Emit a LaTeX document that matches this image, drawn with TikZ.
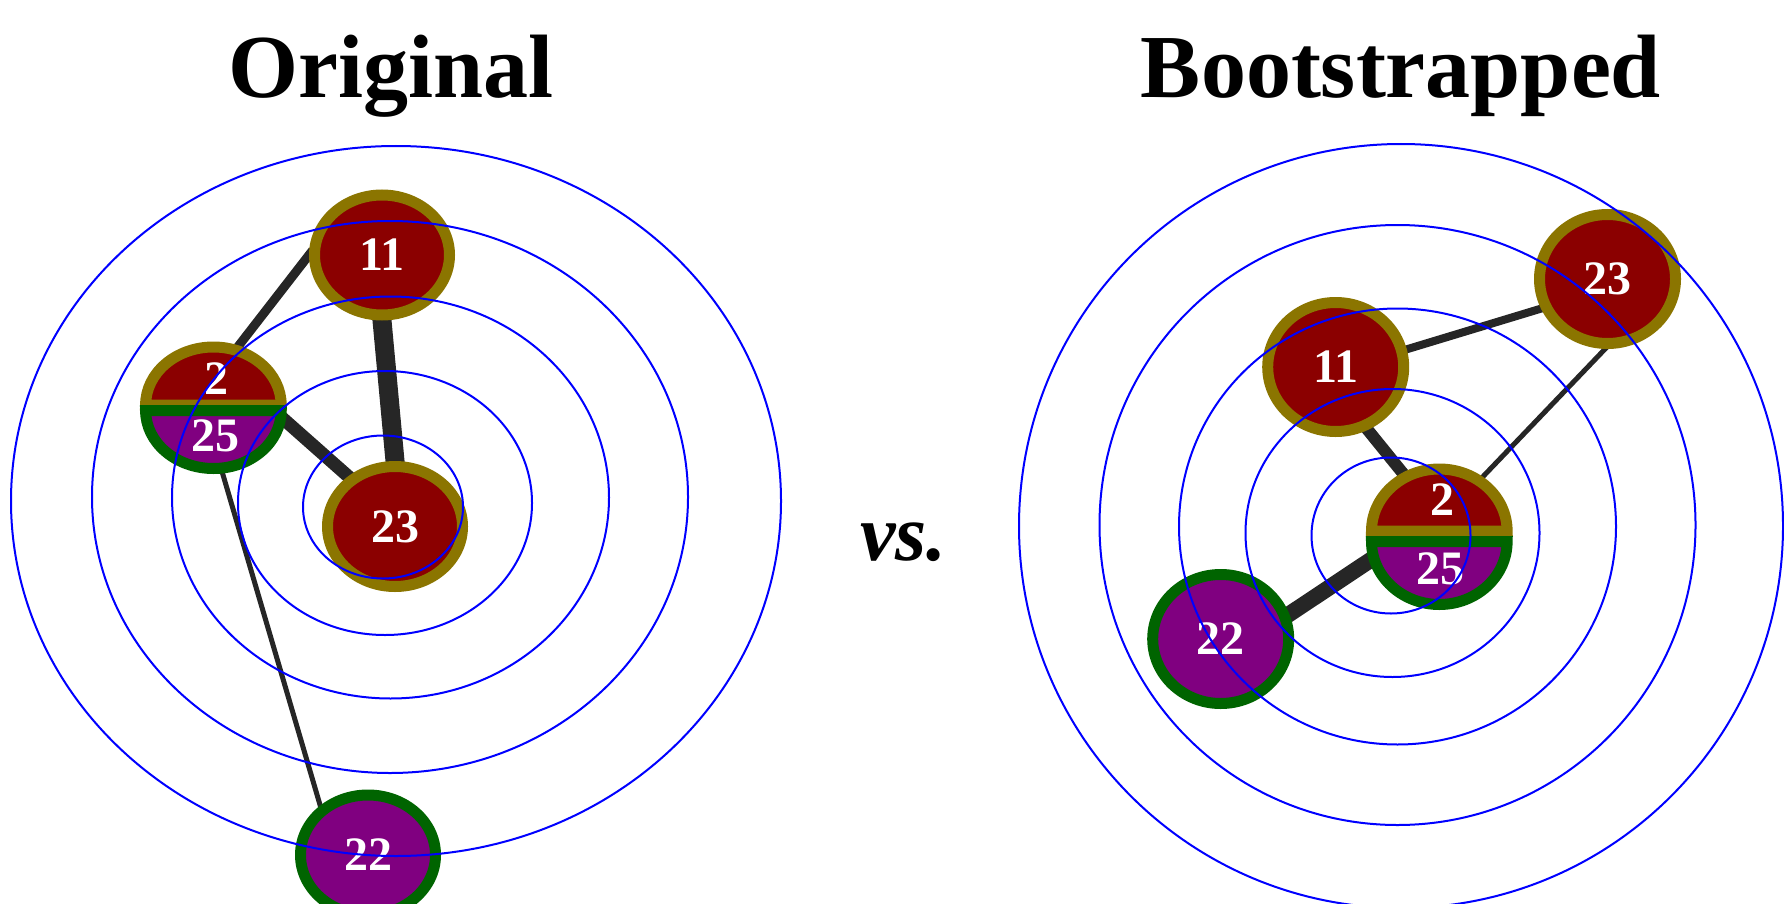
\documentclass[tikz,border=0pt]{standalone}
\usepackage{fontspec}
\setmainfont{Liberation Serif}
\usetikzlibrary{shapes.geometric}
\definecolor{dred}{HTML}{8B0000}
\definecolor{gold}{HTML}{8B7500}
\definecolor{dgreen}{HTML}{006400}
\definecolor{purp}{HTML}{800080}
\definecolor{edgec}{HTML}{262626}
\pgfdeclarelayer{edgelayer}
\pgfsetlayers{edgelayer,main}
\begin{document}
\begin{tikzpicture}[x=1pt,y=-1pt,
  nd/.style={ellipse, draw=gold, fill=dred, line width=11pt, inner sep=0pt,
    text=white, font=\fontsize{48}{48}\selectfont\bfseries},
  pnd/.style={nd, draw=dgreen, fill=purp},
  lsz/.style={minimum width=135pt, minimum height=120pt},
  rsz/.style={minimum width=136pt, minimum height=129pt},
  lbl/.style={text=white, font=\fontsize{48}{48}\selectfont\bfseries, inner sep=0pt},
  ring/.style={draw=blue, line width=2pt},
  lnk/.style={draw=edgec, shorten <=-6pt, shorten >=-6pt},
  tophalf/.style={draw=gold, fill=dred, line width=11pt},
  bothalf/.style={draw=dgreen, fill=purp, line width=11pt},
  ttl/.style={anchor=base, inner sep=0pt, font=\fontsize{90}{90}\selectfont\bfseries}
]
\useasboundingbox (0,0) rectangle (1784,904);

% ---------- titles ----------
\node[ttl] (tA) at (391,98) {Original};
\node[ttl] (tB) at (1401,98) {Bootstrapped};
\node[anchor=base, inner sep=0pt, font=\fontsize{80}{80}\selectfont\bfseries\itshape] (vs) at (903.5,560) {vs.};

% ---------- left graph nodes ----------
\node[nd,lsz] (n11) at (382,255) {11};
\node[nd,lsz] (n23) at (395,526.5) {23};
\node[pnd,lsz] (n22) at (368,855) {22};
\node[ellipse, minimum width=146.6pt, minimum height=132pt, inner sep=0pt, outer sep=0pt] (n2) at (213.4,408) {};
\path[tophalf] (145.6,405) arc[start angle=180, end angle=0, x radius=67.8pt, y radius=58pt] -- cycle;
\path[bothalf] (145.6,410.5) arc[start angle=180, end angle=360, x radius=67.8pt, y radius=58pt] -- cycle;
\node[lbl] (l2) at (216.7,378.5) {2};
\node[lbl] (l25) at (215,436) {25};

% ---------- right graph nodes ----------
\node[nd,rsz] (n23r) at (1607.5,279) {23};
\node[nd,rsz] (n11r) at (1335.7,367) {11};
\node[pnd,rsz] (n22r) at (1220.7,639) {22};
\node[ellipse, minimum width=146.6pt, minimum height=147pt, inner sep=0pt, outer sep=0pt] (n2r) at (1439.3,536.5) {};
\path[tophalf] (1371.5,531) arc[start angle=180, end angle=0, x radius=67.8pt, y radius=62pt] -- cycle;
\path[bothalf] (1371.5,541.5) arc[start angle=180, end angle=360, x radius=67.8pt, y radius=63pt] -- cycle;
\node[lbl] (l2r) at (1442,500) {2};
\node[lbl] (l25r) at (1440,568.5) {25};

% ---------- edges (under nodes) ----------
\begin{pgfonlayer}{edgelayer}
\draw[lnk, line width=9pt] (n11.180) -- (n2.68);
\draw[lnk, line width=19pt] (n11.south) -- (n23.north);
\draw[lnk, line width=13pt] (n2.-10) -- (n23.133);
\draw[lnk, line width=5pt] (n2.-82) -- (n22.134);
\draw[lnk, line width=8pt] (n11r.14) -- (n23r.204);
\draw[lnk, line width=5pt] (n23r.-92) -- (n2r.54);
\draw[lnk, line width=12pt] (n11r.-63) -- (n2r.120);
\draw[lnk, line width=16pt] (n22r.20) -- (n2r.199);
\end{pgfonlayer}

% ---------- rings (on top) ----------
\draw[ring] (396,501) ellipse [x radius=385pt, y radius=355pt];
\draw[ring] (390,497) ellipse [x radius=298pt, y radius=276pt];
\draw[ring] (390.5,497.5) ellipse [x radius=218.5pt, y radius=201pt];
\draw[ring] (385,503) ellipse [x radius=147pt, y radius=132pt];
\draw[ring] (383,507) ellipse [x radius=80pt, y radius=71.5pt];

\draw[ring] (1401,526) ellipse [x radius=382pt, y radius=382pt];
\draw[ring] (1397.5,525) ellipse [x radius=298pt, y radius=300pt];
\draw[ring] (1397.5,526.5) ellipse [x radius=218.5pt, y radius=218pt];
\draw[ring] (1392.5,533) ellipse [x radius=147pt, y radius=144pt];
\draw[ring] (1391,535.5) ellipse [x radius=79.5pt, y radius=78pt];
\end{tikzpicture}
\end{document}
